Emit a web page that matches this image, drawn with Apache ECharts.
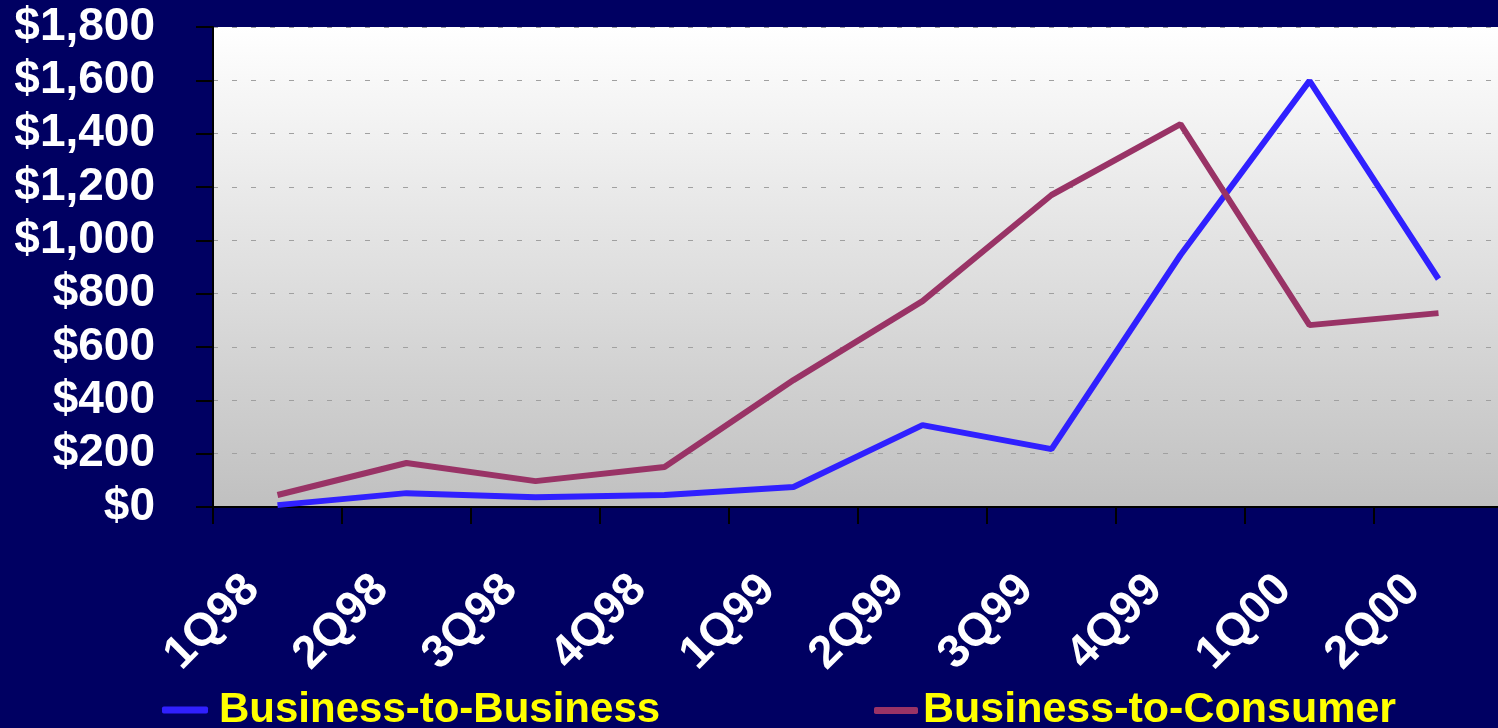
<!DOCTYPE html>
<html>
<head>
<meta charset="utf-8">
<script src="https://cdn.jsdelivr.net/npm/echarts@6/dist/echarts.min.js"></script>
<style>
  html, body { margin: 0; padding: 0; background: #000062; }
  #main { width: 1498px; height: 728px; }
</style>
</head>
<body>
<div id="main"></div>
<script>
// quarters on the x axis
const quarters = ['1Q98', '2Q98', '3Q98', '4Q98', '1Q99', '2Q99', '3Q99', '4Q99', '1Q00', '2Q00'];
// values
const b2b = [7, 52, 37, 45, 75, 307, 217, 945, 1598, 855];
const b2c = [45, 165, 97, 150, 476, 772, 1170, 1436, 682, 727];
const seriesNames = ['Business-to-Business', 'Business-to-Consumer'];

const font = '"Liberation Sans", Arial, sans-serif';
const myChart = echarts.init(document.getElementById('main'));

myChart.setOption({
  backgroundColor: '#000062',
  animation: false,
  grid: { left: 213, width: 1290, top: 27, bottom: 221, containLabel: false,
    outerBoundsMode: 'none',
    show: true, borderWidth: 0,
    backgroundColor: {
      type: 'linear', x: 0, y: 0, x2: 0, y2: 1,
      colorStops: [{ offset: 0, color: '#ffffff' }, { offset: 1, color: '#c0c0c0' }]
    }
  },
  legend: [
    {
      data: [seriesNames[0]], left: 157, top: 684,
      icon: 'roundRect', itemWidth: 46, itemHeight: 7,
      textStyle: { color: '#ffff00', fontSize: 42, fontWeight: 'bold', fontFamily: font, padding: [0, 0, 0, 6] }
    },
    {
      data: [seriesNames[1]], left: 869, top: 684,
      icon: 'roundRect', itemWidth: 44, itemHeight: 7,
      textStyle: { color: '#ffff00', fontSize: 43, fontWeight: 'bold', fontFamily: font, padding: [0, 0, 0, 0] }
    }
  ],
  xAxis: {
    type: 'category',
    data: quarters,
    boundaryGap: true,
    axisLine: { lineStyle: { color: '#000000', width: 2 } },
    axisTick: { show: true, length: 17, lineStyle: { color: '#000000', width: 2 } },
    axisLabel: {
      rotate: 45, margin: 50, color: '#ffffff', fontSize: 46, fontWeight: 'bold',
      fontFamily: font, padding: [0, 36, 0, 0], interval: 0
    },
    splitLine: { show: false }
  },
  yAxis: {
    type: 'value',
    min: 0, max: 1800, interval: 200,
    axisLine: { show: true, lineStyle: { color: '#000000', width: 2 } },
    axisTick: { show: true, length: 17, lineStyle: { color: '#000000', width: 2 } },
    axisLabel: {
      margin: 58, color: '#ffffff', fontSize: 46, fontWeight: 'bold', fontFamily: font,
      formatter: v => '$' + v.toLocaleString('en-US')
    },
    splitLine: { show: true, lineStyle: { color: '#a0a0a0', type: [5, 14], width: 1 } }
  },
  series: [
    {
      name: seriesNames[0], type: 'line', data: b2b,
      showSymbol: false, symbol: 'none',
      lineStyle: { color: '#3020ff', width: 6 },
      itemStyle: { color: '#3020ff' }
    },
    {
      name: seriesNames[1], type: 'line', data: b2c,
      showSymbol: false, symbol: 'none',
      lineStyle: { color: '#993366', width: 6 },
      itemStyle: { color: '#993366' }
    }
  ]
});
</script>
</body>
</html>
